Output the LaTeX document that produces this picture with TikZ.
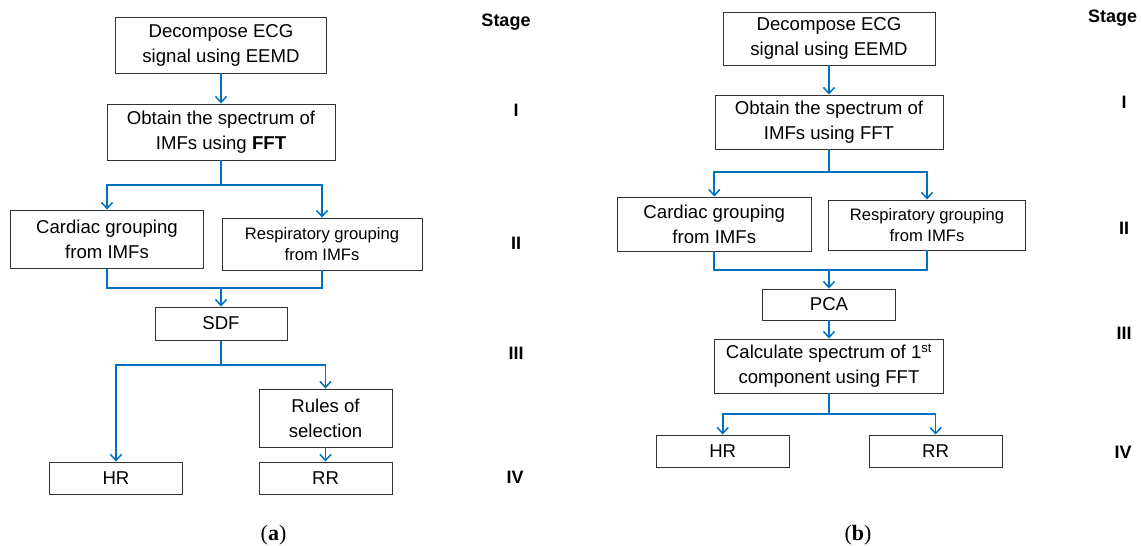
\documentclass[tikz,border=0pt]{standalone}
\usepackage{fontspec}
\setmainfont{Liberation Sans}
\newfontfamily\capfont{Liberation Serif}
\usetikzlibrary{arrows.meta}
\definecolor{flowblue}{RGB}{0,112,192}
\definecolor{boxgray}{RGB}{50,50,50}
\tikzset{
  box/.style={draw=boxgray, line width=0.9pt, rectangle, inner sep=0pt, align=center,
    font=\fontsize{18.6}{25}\selectfont},
  smallbox/.style={box, font=\fontsize{16.6}{21}\selectfont},
  flow/.style={draw=flowblue, line width=1.7pt},
  arr/.style={flow, -{Straight Barb[length=6pt,width=11pt,line width=1.5pt]}},
  stagelbl/.style={font=\fontsize{18}{20}\selectfont\bfseries, inner sep=0pt},
  panellbl/.style={font=\capfont\fontsize{22}{24}\selectfont, inner sep=0pt}
}
\begin{document}
\begin{tikzpicture}[x=1pt,y=-1pt]
\useasboundingbox (0,0) rectangle (1141,546);
% ---------- panel (a) ----------
\node[box, minimum width=211, minimum height=56] (a1) at (221,45) {Decompose ECG\\signal using EEMD};
\node[box, minimum width=228, minimum height=56] (a2) at (221,132) {Obtain the spectrum of\\IMFs using \textbf{FFT}};
\node[box, minimum width=193, minimum height=58] (a3) at (107,239) {Cardiac grouping\\from IMFs};
\node[smallbox, minimum width=200, minimum height=52] (a4) at (322,244) {Respiratory grouping\\from IMFs};
\node[box, minimum width=132, minimum height=33] (asdf) at (221,323.5) {SDF};
\node[box, minimum width=133, minimum height=58] (arules) at (325.5,418) {Rules of\\selection};
\node[box, minimum width=133, minimum height=32] (ahr) at (116,478) {HR};
\node[box, minimum width=133, minimum height=32] (arr) at (325.5,478) {RR};
\coordinate (aj1) at (221,185);
\coordinate (aj2) at (221,288);
\coordinate (aj3) at (221,365);
\draw[arr] (a1.south) -- (a2.north);
\draw[flow] (a2.south) -- (aj1);
\draw[arr] (aj1) -| (a3.north);
\draw[arr] (aj1) -| (a4.north);
\draw[flow] (a3.south) |- (aj2) -| (a4.south);
\draw[arr] (aj2) -- (asdf.north);
\draw[flow] (asdf.south) -- (aj3);
\draw[arr] (aj3) -| (ahr.north);
\draw[arr] (aj3) -| (arules.north);
\draw[arr] (arules.south) -- (arr.north);
\node[stagelbl] (sa) at (506,22) {Stage};
\node[stagelbl] (sa1) at (516,110) {I};
\node[stagelbl] (sa2) at (516,243) {II};
\node[stagelbl] (sa3) at (516,353) {III};
\node[stagelbl] (sa4) at (515,477) {IV};
\node[panellbl] (la) at (273.5,535) {(\textbf{a})};
% ---------- panel (b) ----------
\node[box, minimum width=212, minimum height=53] (b1) at (829,38.5) {Decompose ECG\\signal using EEMD};
\node[box, minimum width=228, minimum height=54] (b2) at (829,122) {Obtain the spectrum of\\IMFs using FFT};
\node[box, minimum width=193.5, minimum height=54] (b3) at (714.3,224) {Cardiac grouping\\from IMFs};
\node[smallbox, minimum width=197, minimum height=50] (b4) at (927,225) {Respiratory grouping\\from IMFs};
\node[box, minimum width=133, minimum height=31] (bpca) at (829,304.5) {PCA};
\node[box, minimum width=229, minimum height=54] (bcalc) at (829,366) {Calculate spectrum of 1\textsuperscript{st}\\component using FFT};
\node[box, minimum width=133, minimum height=32] (bhr) at (722.7,451) {HR};
\node[box, minimum width=133, minimum height=32] (brr) at (935.6,451) {RR};
\coordinate (bj1) at (829,172);
\coordinate (bj2) at (829,270);
\coordinate (bj3) at (829,414);
\draw[arr] (b1.south) -- (b2.north);
\draw[flow] (b2.south) -- (bj1);
\draw[arr] (bj1) -| (b3.north);
\draw[arr] (bj1) -| (b4.north);
\draw[flow] (b3.south) |- (bj2) -| (b4.south);
\draw[arr] (bj2) -- (bpca.north);
\draw[arr] (bpca.south) -- (bcalc.north);
\draw[flow] (bcalc.south) -- (bj3);
\draw[arr] (bj3) -| (bhr.north);
\draw[arr] (bj3) -| (brr.north);
\node[stagelbl, anchor=west] (sb) at (1088,18) {Stage};
\node[stagelbl] (sb1) at (1124,102) {I};
\node[stagelbl] (sb2) at (1124,228) {II};
\node[stagelbl] (sb3) at (1124,333) {III};
\node[stagelbl] (sb4) at (1123,452) {IV};
\node[panellbl] (lb) at (858,535) {(\textbf{b})};
\end{tikzpicture}
\end{document}
